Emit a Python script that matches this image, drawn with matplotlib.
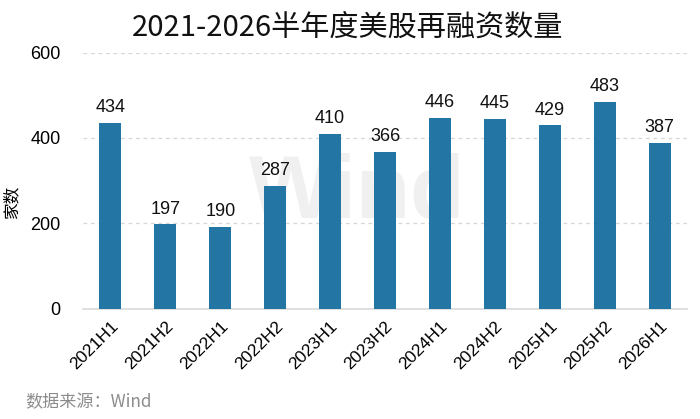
import matplotlib
matplotlib.use('Agg')
import matplotlib.pyplot as plt

periods = ['2021H1', '2021H2', '2022H1', '2022H2', '2023H1', '2023H2',
           '2024H1', '2024H2', '2025H1', '2025H2', '2026H1']
counts = [434, 197, 190, 287, 410, 366, 446, 445, 429, 483, 387]
yticks = [0, 200, 400, 600]

plt.rcParams['font.family'] = ['Liberation Sans', 'Noto Sans CJK SC', 'DejaVu Sans']

fig = plt.figure(figsize=(7, 4.19), dpi=100)
ax = fig.add_axes([0.1186, 0.2637, 0.8628, 0.611])

bar_color = '#2376a3'
x = list(range(len(periods)))
bars = ax.bar(x, counts, width=0.4, color=bar_color, zorder=3)

for xi, v in zip(x, counts):
    ax.annotate(str(v), (xi, v), xytext=(0, 5), textcoords='offset points',
                ha='center', va='bottom', fontsize=13, color='#111111', zorder=4)

ax.set_xlim(-0.5, 10.5)
ax.set_ylim(0, 600)
ax.set_yticks(yticks)
ax.set_yticklabels([str(t) for t in yticks], fontsize=13)
ax.set_xticks(x)
ax.set_xticklabels(periods, rotation=45, ha='right', rotation_mode='anchor',
                   fontsize=12.5)
ax.tick_params(axis='y', length=0, pad=16)
ax.tick_params(axis='x', length=0, pad=7)

for t in yticks[1:]:
    ax.axhline(t, color='#d6d6d6', linestyle=(0, (3, 3)), linewidth=0.9, zorder=1)
for s in ['top', 'right', 'left']:
    ax.spines[s].set_visible(False)
ax.spines['bottom'].set_color('#d9d9d9')
ax.spines['bottom'].set_linewidth(1.2)

ax.set_ylabel('家数', fontsize=12, family=['Noto Sans CJK SC'])
ax.yaxis.set_label_coords(-0.104, 0.42)

# faint watermark
ax.text(4.5, 265, 'Wind', fontsize=64, fontweight='bold', color='#e6e6e6',
        ha='center', va='center', zorder=2, alpha=0.6)

fig.text(0.497, 0.935, '2021-2026半年度美股再融资数量', ha='center', va='center',
         fontsize=21, family=['Noto Sans CJK SC', 'DejaVu Sans'], color='#111111')
fig.text(0.036, 0.04, '数据来源：Wind', ha='left', va='center', fontsize=12.3,
         family=['Noto Sans CJK SC', 'DejaVu Sans'], color='#8c8c8c')

fig.savefig('out.png', dpi=100)
